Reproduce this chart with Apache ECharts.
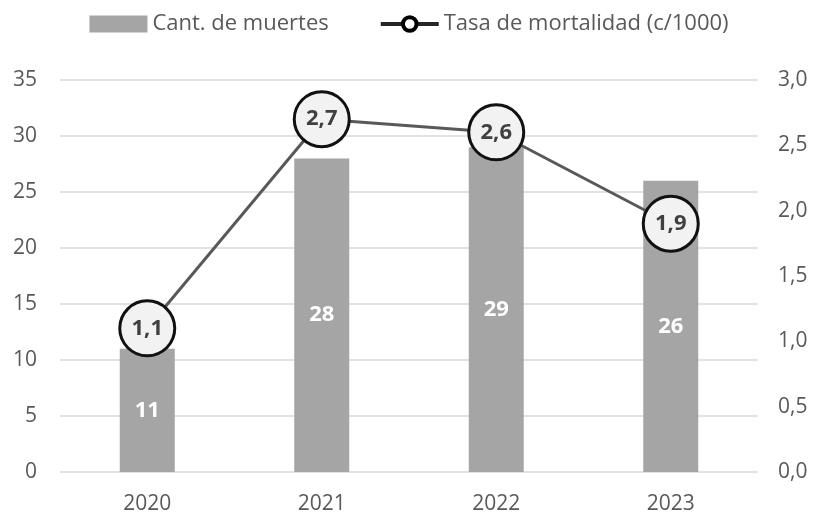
<!DOCTYPE html>
<html>
<head>
<meta charset="utf-8">
<script src="https://cdn.jsdelivr.net/npm/echarts@6/dist/echarts.min.js"></script>
<style>
html,body{margin:0;padding:0;background:#fff;}
#chart{width:818px;height:517px;}
</style>
</head>
<body>
<div id="chart"></div>
<script>
// datos
var anios = ['2020', '2021', '2022', '2023'];
var muertes = [11, 28, 29, 26];
var tasa = [1.1, 2.7, 2.6, 1.9];

function coma(v, d) {
	return v.toFixed(d).replace('.', ',');
}

var myChart = echarts.init(document.getElementById('chart'));
var fuente = '"Open Sans", "Noto Sans", sans-serif';
var option = {
	backgroundColor: '#fff',
	textStyle: { fontFamily: fuente },
	legend: {
		top: 8,
		left: 'center',
		itemGap: 50,
		itemWidth: 58,
		itemHeight: 17,
		textStyle: { fontSize: 22, color: '#595959', fontFamily: fuente },
		data: [
			{ name: 'Cant. de muertes', icon: 'rect' },
			{ name: 'Tasa de mortalidad (c/1000)',
				lineStyle: { color: '#262626', width: 4 },
				itemStyle: { color: '#fff', borderColor: '#000', borderWidth: 4 } }
		]
	},
	grid: { left: 60, right: 60, top: 80, bottom: 45 },
	xAxis: {
		type: 'category',
		data: anios,
		axisLine: { show: false },
		axisTick: { show: false },
		axisLabel: { fontSize: 21, color: '#595959', margin: 22 }
	},
	yAxis: [
		{
			type: 'value',
			min: 0, max: 35, interval: 5,
			axisLabel: { fontSize: 21, color: '#595959', margin: 23, align: 'right' },
			splitLine: { lineStyle: { color: '#d9d9d9', width: 1.5 } }
		},
		{
			type: 'value',
			min: 0, max: 3, interval: 0.5,
			axisLabel: { fontSize: 21, color: '#595959', margin: 20,
				formatter: function (v) { return coma(v, 1); } },
			splitLine: { show: false }
		}
	],
	series: [
		{
			name: 'Cant. de muertes',
			type: 'bar',
			barWidth: 55,
			data: muertes,
			itemStyle: { color: '#a5a5a5' },
			label: { show: true, position: 'inside', color: '#fff', fontSize: 22, fontWeight: 'bold' }
		},
		{
			name: 'Tasa de mortalidad (c/1000)',
			type: 'line',
			yAxisIndex: 1,
			data: tasa,
			symbol: 'circle',
			symbolSize: 55,
			lineStyle: { color: '#595959', width: 3 },
			itemStyle: { color: '#f2f2f2', borderColor: '#111', borderWidth: 3 },
			label: { show: true, position: 'inside', color: '#404040', fontSize: 22, fontWeight: 'bold',
				formatter: function (p) { return coma(p.value, 1); } },
			z: 5
		}
	]
};
myChart.setOption(option);
</script>
</body>
</html>
